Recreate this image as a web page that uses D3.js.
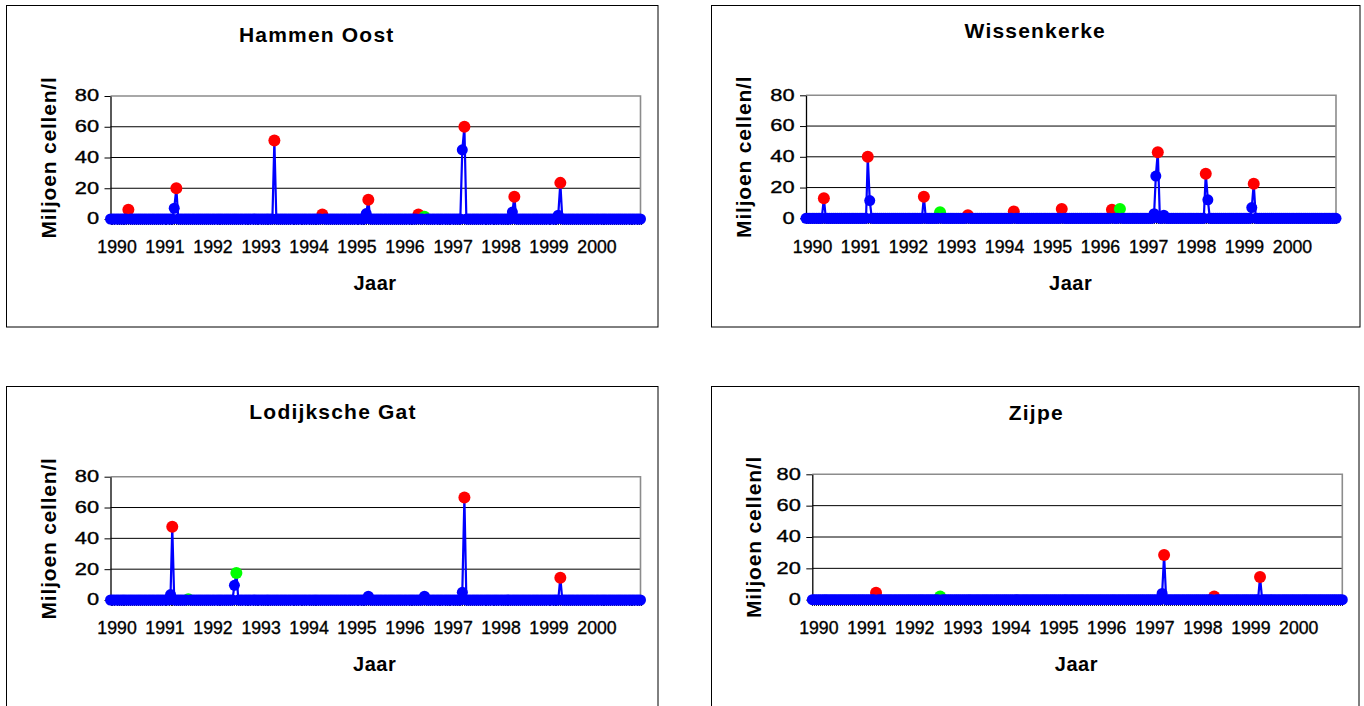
<!DOCTYPE html>
<html>
<head>
<meta charset="utf-8">
<script src="https://cdn.jsdelivr.net/npm/d3@7"></script>
<style>
  html, body { margin: 0; padding: 0; background: #fff; }
  svg { display: block; }
</style>
</head>
<body>
<script>
// ---------------- DATA ----------------
// Sampling dates (category axis of the original chart; each has a tick mark)
const sampleDates = [
"1989-11-16","1989-12-01","1989-12-16",
"1990-01-01","1990-01-16","1990-02-01","1990-02-16","1990-03-01","1990-03-16","1990-04-01","1990-04-16","1990-05-01","1990-05-16","1990-06-01","1990-06-16","1990-07-01","1990-07-16","1990-08-01","1990-08-16","1990-09-01","1990-09-16","1990-10-01","1990-10-16","1990-11-01","1990-11-16","1990-12-01","1990-12-16",
"1991-01-01","1991-01-16","1991-02-01","1991-02-16","1991-03-01","1991-03-16","1991-04-01","1991-04-16","1991-05-01","1991-05-16","1991-06-01","1991-06-16","1991-07-01","1991-07-16","1991-08-01","1991-08-16","1991-09-01","1991-09-16","1991-10-01","1991-10-16","1991-11-01","1991-11-16","1991-12-01","1991-12-16",
"1992-01-01","1992-01-16","1992-02-01","1992-02-16","1992-03-01","1992-03-16","1992-04-01","1992-04-16","1992-05-01","1992-05-16","1992-06-01","1992-06-16","1992-07-01","1992-07-16","1992-08-01","1992-08-16","1992-09-01","1992-09-16","1992-10-01","1992-10-16","1992-11-01","1992-11-16","1992-12-01","1992-12-16",
"1993-01-01","1993-01-16","1993-02-01","1993-02-16","1993-03-01","1993-03-16","1993-04-01","1993-04-16","1993-05-01","1993-05-16","1993-06-01","1993-06-16","1993-07-01","1993-07-16","1993-08-01","1993-08-16","1993-09-01","1993-09-16","1993-10-01","1993-10-16","1993-11-01","1993-11-16","1993-12-01","1993-12-16",
"1994-01-01","1994-01-16","1994-02-01","1994-02-16","1994-03-01","1994-03-16","1994-04-01","1994-04-16","1994-05-01","1994-05-16","1994-06-01","1994-06-16","1994-07-01","1994-07-16","1994-08-01","1994-08-16","1994-09-01","1994-09-16","1994-10-01","1994-10-16","1994-11-01","1994-11-16","1994-12-01","1994-12-16",
"1995-01-01","1995-01-16","1995-02-01","1995-02-16","1995-03-01","1995-03-16","1995-04-01","1995-04-16","1995-05-01","1995-05-16","1995-06-01","1995-06-16","1995-07-01","1995-07-16","1995-08-01","1995-08-16","1995-09-01","1995-09-16","1995-10-01","1995-10-16","1995-11-01","1995-11-16","1995-12-01","1995-12-16",
"1996-01-01","1996-01-16","1996-02-01","1996-02-16","1996-03-01","1996-03-16","1996-04-01","1996-04-16","1996-05-01","1996-05-16","1996-06-01","1996-06-16","1996-07-01","1996-07-16","1996-08-01","1996-08-16","1996-09-01","1996-09-16","1996-10-01","1996-10-16","1996-11-01","1996-11-16","1996-12-01","1996-12-16",
"1997-01-01","1997-01-16","1997-02-01","1997-02-16","1997-03-01","1997-03-16","1997-04-01","1997-04-16","1997-05-01","1997-05-16","1997-06-01","1997-06-16","1997-07-01","1997-07-16","1997-08-01","1997-08-16","1997-09-01","1997-09-16","1997-10-01","1997-10-16","1997-11-01","1997-11-16","1997-12-01","1997-12-16",
"1998-01-01","1998-01-16","1998-02-01","1998-02-16","1998-03-01","1998-03-16","1998-04-01","1998-04-16","1998-05-01","1998-05-16","1998-06-01","1998-06-16","1998-07-01","1998-07-16","1998-08-01","1998-08-16","1998-09-01","1998-09-16","1998-10-01","1998-10-16","1998-11-01","1998-11-16","1998-12-01","1998-12-16",
"1999-01-01","1999-01-16","1999-02-01","1999-02-16","1999-03-01","1999-03-16","1999-04-01","1999-04-16","1999-05-01","1999-05-16","1999-06-01","1999-06-16","1999-07-01","1999-07-16","1999-08-01","1999-08-16","1999-09-01","1999-09-16","1999-10-01","1999-10-16","1999-11-01","1999-11-16","1999-12-01","1999-12-16",
"2000-01-01","2000-01-16","2000-02-01","2000-02-16","2000-03-01","2000-03-16","2000-04-01","2000-04-16","2000-05-01","2000-05-16","2000-06-01","2000-06-16","2000-07-01","2000-07-16","2000-08-01","2000-08-16","2000-09-01","2000-09-16","2000-10-01","2000-10-16","2000-11-01","2000-11-16","2000-12-01"
];

const yearLabels = ["1990","1991","1992","1993","1994","1995","1996","1997","1998","1999","2000"];
const yTicks = [0, 20, 40, 60, 80];
const titles = ["Hammen Oost", "Wissenkerke", "Lodijksche Gat", "Zijpe"];
const yAxisTitle = "Miljoen cellen/l";
const xAxisTitle = "Jaar";

// Blue series: non-zero samples (every other sample date reads as 0)
const hammenBlue = [["1990-04-01",6],["1991-03-16",7],["1991-04-01",20],["1993-04-16",51],["1994-04-16",3],["1995-03-16",3.5],["1995-04-01",12.5],["1996-04-16",3],["1996-06-01",1.5],["1997-03-16",45],["1997-04-01",60],["1998-04-01",4.5],["1998-04-16",14.5],["1999-03-16",2.5],["1999-04-01",23.5]];
const hammenRed = [["1990-04-01",6],["1991-04-01",20],["1993-04-16",51],["1994-04-16",3],["1995-04-01",12.5],["1996-04-16",3],["1997-04-01",60],["1998-04-16",14.5],["1999-04-01",23.5]];
const hammenGreen = [["1996-06-01",1.5]];

const wissenBlue = [["1990-04-01",13],["1991-03-01",40],["1991-03-16",11.5],["1992-05-01",14],["1992-09-01",4],["1993-04-01",2],["1994-03-16",4.5],["1995-03-16",6],["1996-04-01",5.5],["1996-06-01",6],["1997-02-16",3],["1997-03-01",27.5],["1997-03-16",43],["1997-05-01",2],["1998-03-16",29],["1998-04-01",12],["1999-03-01",7],["1999-03-16",22.5]];
const wissenRed = [["1990-04-01",13],["1991-03-01",40],["1992-05-01",14],["1993-04-01",2],["1994-03-16",4.5],["1995-03-16",6],["1996-04-01",5.5],["1997-03-16",43],["1998-03-16",29],["1999-03-16",22.5]];
const wissenGreen = [["1992-09-01",4],["1996-06-01",6]];

const lodBlue = [["1991-02-16",3.5],["1991-03-01",47.5],["1991-07-01",0.5],["1992-06-16",9.5],["1992-07-01",17.5],["1995-04-01",2.5],["1996-06-01",2.5],["1997-03-16",5],["1997-04-01",66.5],["1999-04-01",14.5]];
const lodRed = [["1991-03-01",47.5],["1997-04-01",66.5],["1999-04-01",14.5]];
const lodGreen = [["1991-07-01",0.5],["1992-07-01",17.5]];

const zijpeBlue = [["1991-03-16",4.5],["1992-07-16",2],["1997-03-01",4],["1997-03-16",28.5],["1998-04-01",2],["1999-03-16",14.5]];
const zijpeRed = [["1991-03-16",4.5],["1997-03-16",28.5],["1998-04-01",2],["1999-03-16",14.5]];
const zijpeGreen = [["1992-07-16",2]];

// ---------------- LAYOUT ----------------
const panels = [
  {title: titles[0], blue: hammenBlue, red: hammenRed, green: hammenGreen,
   box: [6.5, 5.5, 651.5, 321.5], axisX: 110.5, yTop: 96, yZero: 219,
   titleX: 316.7, titleY: 41.7, ylabX: 48, jaarX: 375, jaarY: 290},
  {title: titles[1], blue: wissenBlue, red: wissenRed, green: wissenGreen,
   box: [711.5, 5.5, 648.5, 321.5], axisX: 806, yTop: 95.3, yZero: 218.3,
   titleX: 1035.3, titleY: 38.3, ylabX: 743, jaarX: 1070.7, jaarY: 290},
  {title: titles[2], blue: lodBlue, red: lodRed, green: lodGreen,
   box: [6.5, 386.5, 651.5, 340], axisX: 110.5, yTop: 476.7, yZero: 600,
   titleX: 333, titleY: 419.3, ylabX: 48, jaarX: 374.7, jaarY: 670.7},
  {title: titles[3], blue: zijpeBlue, red: zijpeRed, green: zijpeGreen,
   box: [711.5, 386.5, 647.5, 340], axisX: 812.3, yTop: 474.3, yZero: 599.7,
   titleX: 1036.3, titleY: 419.5, ylabX: 753.5, jaarX: 1076.4, jaarY: 670.7}
];

const FONT = "'Liberation Sans', Arial, Helvetica, sans-serif";
const PLOT_W = 530;
const parse = d3.timeParse("%Y-%m-%d");
const dates = sampleDates.map(parse);

const svg = d3.select("body").append("svg")
  .attr("width", 1364).attr("height", 706)
  .style("font-family", FONT);
svg.append("rect").attr("width", 1364).attr("height", 706).attr("fill", "#fff");

panels.forEach(p => {
  const g = svg.append("g");

  // panel frame
  g.append("rect")
    .attr("x", p.box[0]).attr("y", p.box[1])
    .attr("width", p.box[2]).attr("height", p.box[3])
    .attr("fill", "none").attr("stroke", "#000").attr("stroke-width", 1);

  const x = d3.scaleTime().domain(d3.extent(dates)).range([p.axisX, p.axisX + PLOT_W]);
  const y = d3.scaleLinear().domain([0, 80]).range([p.yZero, p.yTop]);

  // gridlines
  g.selectAll("line.grid").data(yTicks.filter(v => v > 0 && v < 80)).join("line")
    .attr("class", "grid")
    .attr("x1", p.axisX).attr("x2", p.axisX + PLOT_W)
    .attr("y1", d => y(d)).attr("y2", d => y(d))
    .attr("stroke", "#000").attr("stroke-width", 1);

  // plot area border (top + right) in gray
  g.append("path")
    .attr("d", `M${p.axisX},${y(80)}H${p.axisX + PLOT_W}V${y(0)}`)
    .attr("fill", "none").attr("stroke", "#8c8c8c").attr("stroke-width", 1.6);

  // x-axis tick marks at every sample
  const xt = g.append("g").attr("transform", `translate(0,${p.yZero})`)
    .call(d3.axisBottom(x).tickValues(dates).tickSize(6).tickSizeOuter(0).tickFormat(""));
  xt.selectAll("line").attr("stroke", "#222").attr("shape-rendering", "crispEdges");
  xt.select(".domain").attr("stroke", "#000");

  // year labels
  const xl = g.append("g").attr("transform", `translate(0,${p.yZero})`)
    .call(d3.axisBottom(x)
      .tickValues(yearLabels.map(s => parse(s + "-01-01")))
      .tickSize(0).tickPadding(21.9)
      .tickFormat((d, i) => yearLabels[i]));
  xl.select(".domain").remove();
  xl.attr("font-family", FONT).attr("font-size", 17.7);
  xl.selectAll("text").attr("fill", "#000").attr("stroke", "#000").attr("stroke-width", 0.35);

  // y axis
  const ya = g.append("g").attr("transform", `translate(${p.axisX},0)`)
    .call(d3.axisLeft(y).tickValues(yTicks).tickSize(6).tickSizeOuter(0).tickFormat(""));
  ya.select(".domain").attr("stroke", "#000").attr("stroke-width", 1.3);
  ya.selectAll("line").attr("stroke", "#000");

  // y tick labels (horizontally stretched, as in the original)
  g.selectAll("text.ytl").data(yTicks).join("text")
    .attr("class", "ytl")
    .attr("transform", d => `translate(${p.axisX - 11.4},${y(d)}) scale(1.4,1)`)
    .attr("text-anchor", "end").attr("dominant-baseline", "central")
    .attr("font-size", 15.6).attr("fill", "#000")
    .attr("stroke", "#000").attr("stroke-width", 0.35)
    .text(d => d);

  // blue line series
  const vals = new Map(p.blue);
  const series = sampleDates.map((s, i) => ({date: dates[i], key: s, value: vals.has(s) ? vals.get(s) : 0}));
  g.append("path").datum(series)
    .attr("d", d3.line().x(d => x(d.date)).y(d => y(d.value)))
    .attr("fill", "none").attr("stroke", "#0000ff").attr("stroke-width", 2.2)
    .attr("stroke-linejoin", "round");

  // red and green markers
  g.selectAll("circle.red").data(p.red).join("circle")
    .attr("class", "red")
    .attr("cx", d => x(parse(d[0]))).attr("cy", d => y(d[1]))
    .attr("r", 6).attr("fill", "#ff0000");
  g.selectAll("circle.green").data(p.green).join("circle")
    .attr("class", "green")
    .attr("cx", d => x(parse(d[0]))).attr("cy", d => y(d[1]))
    .attr("r", 6).attr("fill", "#00ff00");

  // blue markers (not where a red/green marker sits)
  const colored = new Set([...p.red, ...p.green].map(d => d[0]));
  g.selectAll("circle.blue").data(series.filter(d => !colored.has(d.key))).join("circle")
    .attr("class", "blue")
    .attr("cx", d => x(d.date)).attr("cy", d => y(d.value))
    .attr("r", 5.5).attr("fill", "#0000ff");

  // titles
  g.append("text")
    .attr("x", p.titleX).attr("y", p.titleY)
    .attr("text-anchor", "middle").attr("font-weight", "bold")
    .attr("font-size", 21).attr("letter-spacing", 1.2).attr("fill", "#000")
    .text(p.title);

  g.append("text")
    .attr("transform", `translate(${p.ylabX},${(p.yTop + p.yZero) / 2}) rotate(-90)`)
    .attr("text-anchor", "middle").attr("dominant-baseline", "central")
    .attr("font-weight", "bold").attr("font-size", 21).attr("letter-spacing", 0.8)
    .attr("fill", "#000")
    .text(yAxisTitle);

  g.append("text")
    .attr("x", p.jaarX).attr("y", p.jaarY)
    .attr("text-anchor", "middle").attr("font-weight", "bold")
    .attr("font-size", 20).attr("letter-spacing", 0.5).attr("fill", "#000")
    .text(xAxisTitle);
});
</script>
</body>
</html>
